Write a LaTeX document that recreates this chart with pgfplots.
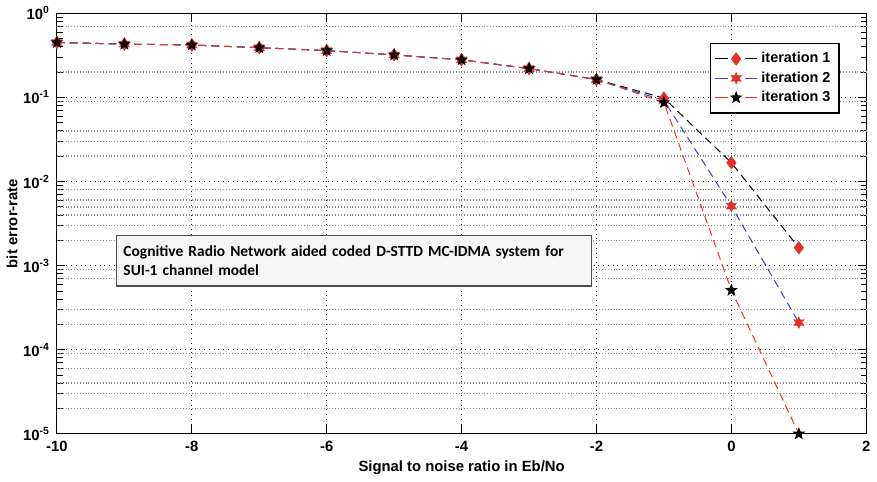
\documentclass[border=0pt]{standalone}
\usepackage{pgfplots}
\pgfplotsset{compat=1.18}
\usepackage{fontspec}
\setmainfont{Liberation Sans}
\newfontfamily\boxfont{Carlito}
\definecolor{mred}{HTML}{E5302A}
\definecolor{mblue}{HTML}{3A3FC0}
\definecolor{lred}{HTML}{E8342E}
\pgfdeclareplotmark{fstar}{%
 \pgfpathmoveto{\pgfpointpolar{90}{\pgfplotmarksize}}%
 \pgfpathlineto{\pgfpointpolar{126}{0.42\pgfplotmarksize}}%
 \pgfpathlineto{\pgfpointpolar{162}{\pgfplotmarksize}}%
 \pgfpathlineto{\pgfpointpolar{198}{0.42\pgfplotmarksize}}%
 \pgfpathlineto{\pgfpointpolar{234}{\pgfplotmarksize}}%
 \pgfpathlineto{\pgfpointpolar{270}{0.42\pgfplotmarksize}}%
 \pgfpathlineto{\pgfpointpolar{306}{\pgfplotmarksize}}%
 \pgfpathlineto{\pgfpointpolar{342}{0.42\pgfplotmarksize}}%
 \pgfpathlineto{\pgfpointpolar{18}{\pgfplotmarksize}}%
 \pgfpathlineto{\pgfpointpolar{54}{0.42\pgfplotmarksize}}%
 \pgfpathclose\pgfusepathqfillstroke}
\pgfdeclareplotmark{hstar}{%
 \pgfpathmoveto{\pgfpointpolar{90}{\pgfplotmarksize}}%
 \pgfpathlineto{\pgfpointpolar{120}{0.5\pgfplotmarksize}}%
 \pgfpathlineto{\pgfpointpolar{150}{\pgfplotmarksize}}%
 \pgfpathlineto{\pgfpointpolar{180}{0.5\pgfplotmarksize}}%
 \pgfpathlineto{\pgfpointpolar{210}{\pgfplotmarksize}}%
 \pgfpathlineto{\pgfpointpolar{240}{0.5\pgfplotmarksize}}%
 \pgfpathlineto{\pgfpointpolar{270}{\pgfplotmarksize}}%
 \pgfpathlineto{\pgfpointpolar{300}{0.5\pgfplotmarksize}}%
 \pgfpathlineto{\pgfpointpolar{330}{\pgfplotmarksize}}%
 \pgfpathlineto{\pgfpointpolar{0}{0.5\pgfplotmarksize}}%
 \pgfpathlineto{\pgfpointpolar{30}{\pgfplotmarksize}}%
 \pgfpathlineto{\pgfpointpolar{60}{0.5\pgfplotmarksize}}%
 \pgfpathclose\pgfusepathqfillstroke}
\begin{document}
\begin{tikzpicture}
\begin{semilogyaxis}[
  scale only axis,
  width=409pt, height=212.5pt,
  xmin=-10, xmax=2, ymin=1e-5, ymax=1,
  xtick={-10,-8,-6,-4,-2,0,2},
  ytick={1e-5,1e-4,1e-3,1e-2,1e-1,1},
  yticklabels={10\textsuperscript{-5},10\textsuperscript{-4},10\textsuperscript{-3},10\textsuperscript{-2},10\textsuperscript{-1},10\textsuperscript{0}},
  /pgf/number format/assume math mode=true,
  font=\fontsize{7.5}{9}\selectfont\bfseries,
  tick align=inside,
  tick style={black, thin},
  xmajorgrids=true, ymajorgrids=true, yminorgrids=false, xminorgrids=false,
  major grid style={black, dotted, line width=0.45pt},
  extra y ticks={0.7,0.2, 0.09,0.04,0.03,0.02, 0.008,0.006,0.005,0.004,0.003,0.002, 0.0009,0.0007,0.0003,0.0002, 0.00009,0.00006,0.00004,0.00003,0.00002},
  extra y tick labels={},
  extra y tick style={grid=major, major tick length=0pt, major grid style={black!45, densely dotted, line width=0.7pt}},
  axis line style={black, line width=0.6pt},
  xlabel={Signal to noise ratio in Eb/No},
  ylabel={bit error-rate},
  xlabel style={yshift=2pt},
  ylabel style={yshift=-4pt},
  legend style={at={(0.967,0.929)}, anchor=north east, draw=black, line width=0.6pt,
    font=\fontsize{7.3}{8}\selectfont\bfseries, row sep=-1pt, inner sep=2.3pt},
  legend cell align=left,
  legend image code/.code={%
    \draw[#1, solid] (0cm,0cm) -- (0.22cm,0cm);
    \draw[#1, solid] (0.52cm,0cm) -- (0.74cm,0cm);
    \draw[#1] plot coordinates {(0.37cm,0cm)};},
  trim axis right,
]
\addplot[black, dash pattern=on 4pt off 2.5pt, line width=0.5pt,
  mark=diamond*, mark size=3pt, mark options={solid, fill=mred, draw=mred}]
  coordinates {(-10,0.45) (-9,0.43) (-8,0.42) (-7,0.39) (-6,0.36) (-5,0.32) (-4,0.28) (-3,0.22) (-2,0.163) (-1,0.098) (0,0.0167) (1,0.00163)};
\addlegendentry{iteration 1}
\addplot[mblue, dash pattern=on 4pt off 2.5pt, line width=0.5pt,
  mark=hstar, mark size=2.7pt, mark options={solid, fill=mred, draw=mred}]
  coordinates {(-10,0.45) (-9,0.43) (-8,0.42) (-7,0.39) (-6,0.36) (-5,0.32) (-4,0.28) (-3,0.22) (-2,0.163) (-1,0.092) (0,0.0051) (1,0.00021)};
\addlegendentry{iteration 2}
\addplot[lred, dash pattern=on 4pt off 2.5pt, line width=0.5pt,
  mark=fstar, mark size=2.7pt, mark options={solid, fill=black, draw=black}]
  coordinates {(-10,0.45) (-9,0.43) (-8,0.42) (-7,0.39) (-6,0.36) (-5,0.32) (-4,0.28) (-3,0.22) (-2,0.163) (-1,0.087) (0,0.00051) (1,0.00001)};
\addlegendentry{iteration 3}
\node[anchor=north west, draw=black!70, fill=black!4, line width=0.6pt,
  text width=233pt, align=left, inner sep=3.5pt, minimum height=25.5pt,
  font=\boxfont\fontsize{7.8}{10}\selectfont\bfseries]
  at (rel axis cs:0.073,0.473)
  {Cognitive Radio Network aided coded D-STTD MC-IDMA system for\\SUI-1 channel model};
\end{semilogyaxis}
\end{tikzpicture}
\end{document}
